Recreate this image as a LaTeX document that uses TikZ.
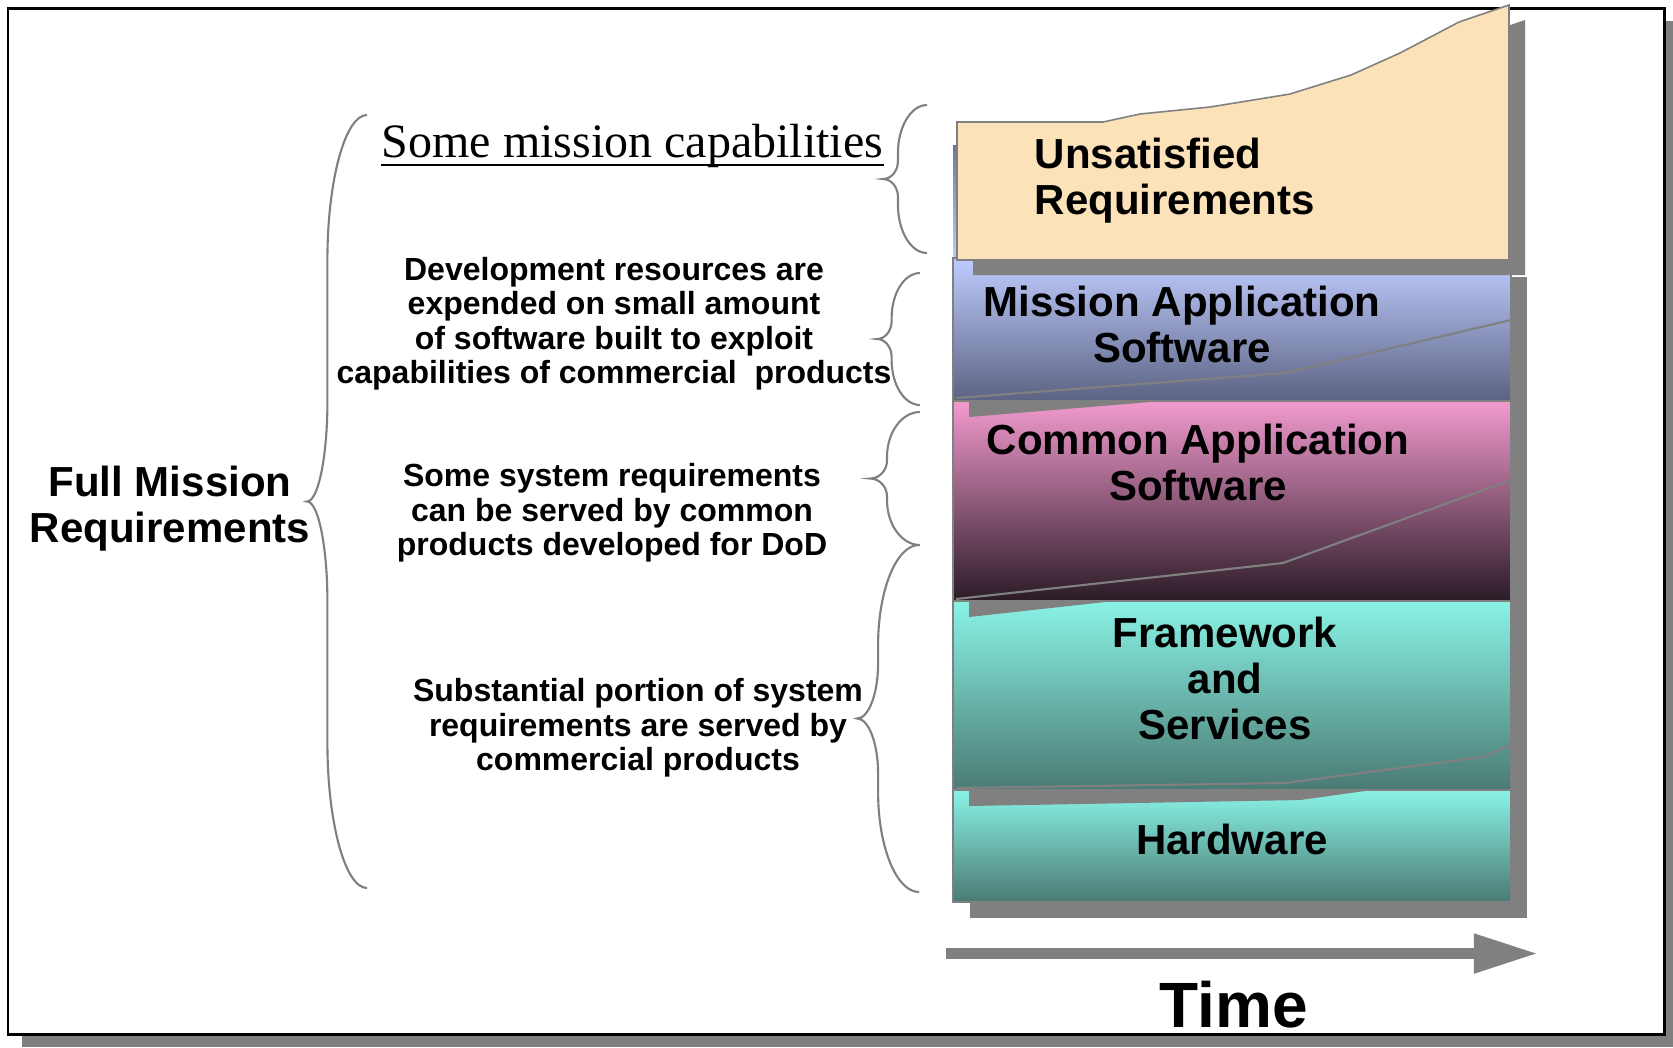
\documentclass[tikz,border=0pt]{standalone}
\usepackage{fontspec}
\setmainfont{Liberation Sans}
\newfontfamily\serifface{Liberation Serif}
\usetikzlibrary{arrows.meta}
\definecolor{shadowgray}{HTML}{808080}
\definecolor{unsatfill}{HTML}{FBE2B9}
\definecolor{missiontop}{HTML}{C0CCFF}
\definecolor{missionbot}{HTML}{5B6282}
\definecolor{commontop}{HTML}{F29ACE}
\definecolor{commonbot}{HTML}{2A1B26}
\definecolor{aquatop}{HTML}{8AF3E6}
\definecolor{aquabot}{HTML}{4A7A73}

\begin{document}
\begin{tikzpicture}[
  x=0.01cm, y=-0.01cm,
  shadow/.style={fill=shadowgray, draw=none},
  band/.style={draw=shadowgray, line width=0.45pt},
  seam/.style={draw=shadowgray, line width=0.6pt},
  curly/.style={draw=shadowgray, line width=0.6pt},
  bandtxt/.style={font=\fontsize{11.95}{13.1}\selectfont\bfseries, align=center, inner sep=0pt},
  sidetxt/.style={font=\fontsize{9.1}{9.8}\selectfont\bfseries, align=center, inner sep=0pt},
  timearrow/.style={draw=shadowgray, line width=3.1pt, -{Triangle[length=0.64cm, width=0.37cm]}}
]
  \useasboundingbox (0,0) rectangle (1673,1047);
  % frame
  \fill[shadowgray] (22,21) rectangle (1673,1047);
  \draw[fill=white, line width=0.85pt] (8,8) rectangle (1664,1034);

  % layer stack
  \fill[shadow] (970,277) rectangle (1527,918);
  \draw[band, top color=aquatop, bottom color=aquabot] (953,790) rectangle (1511,902);
  \draw[band, top color=aquatop, bottom color=aquabot] (953,601) rectangle (1511,790);
  \draw[seam] (956,788) -- (1285,783) -- (1483,757) -- (1511,745);
  \fill[shadow] (969,791) -- (969,806) -- (1300,800) -- (1365,791) -- cycle;
  \draw[band, top color=commontop, bottom color=commonbot] (953,401) rectangle (1511,601);
  \draw[seam] (956,599) -- (1283,563) -- (1511,480);
  \fill[shadow] (969,602) -- (969,617) -- (1105,602) -- cycle;
  \shade[top color=missionbot!80!missiontop, bottom color=missiontop] (953,145) rectangle (957,262);
  \draw[band, top color=missiontop, bottom color=missionbot] (953,258) rectangle (1511,401);
  \draw[seam] (956,398) -- (1285,373) -- (1511,320);
  \fill[shadow] (969,402) -- (969,417) -- (1150,402) -- cycle;
  \fill[shadow, shift={(16,15)}] (957,122) -- (1103,122) -- (1140,114) -- (1210,107)
    -- (1290,94) -- (1351,75) -- (1400,53) -- (1459,22) -- (1509,5) -- (1509,260)
    -- (957,260) -- cycle;
  \draw[band, fill=unsatfill] (957,122) -- (1103,122) -- (1140,114) -- (1210,107)
    -- (1290,94) -- (1351,75) -- (1400,53) -- (1459,22) -- (1509,5) -- (1509,260)
    -- (957,260) -- cycle;

  % layer labels
  \node[bandtxt, align=left, anchor=west] (unsat) at (1034,180.5) {Unsatisfied\\Requirements};
  \node[bandtxt] (misapp) at (1182,324.5) {Mission Application\\Software};
  \node[bandtxt] (comapp) at (1198,462) {Common Application\\Software};
  \node[bandtxt] (frmwk) at (1225,678.5) {Framework\\and\\Services};
  \node[bandtxt] (hw) at (1232,839.5) {Hardware};

  % side texts
  \node[bandtxt] (fullreq) at (170,508.5) {Full Mission\\Requirements};
  \node[inner sep=0pt, anchor=base, font=\serifface\fontsize{13.65}{15}\selectfont]
    (somecap) at (632.5,157) {Some mission capabilities};
  \draw[line width=0.55pt] ([yshift=-2.3pt]somecap.base west) -- ([yshift=-2.3pt]somecap.base east);
  \node[sidetxt] (devres) at (614,323.5) {Development resources are\\expended on small amount\\of software built to exploit\\capabilities of commercial~ products};
  \node[sidetxt] (sysreq) at (612,513) {Some system requirements\\can be served by common\\products developed for DoD};
  \node[sidetxt] (subst) at (638,728) {Substantial portion of system\\requirements are served by\\commercial products};

  % braces
  \foreach \xe/\yt/\xt/\yb/\re/\rt in {367/115/307/888/145/100, 927/105/883/253/48/18,
      920/273/877/405/45/18, 920/412/870/545/45/18, 919/545/857/892/100/55} {
    \pgfmathsetmacro\xs{\xe-0.66*(\xe-\xt)}
    \pgfmathsetmacro\ym{(\yt+\yb)/2}
    \draw[curly] (\xe,\yt) .. controls ({\xe-0.55*(\xe-\xs)},\yt) and (\xs,{\yt+0.45*\re}) .. (\xs,\yt+\re)
      -- (\xs,\ym-\rt) .. controls (\xs,{\ym-0.45*\rt}) and ({\xt+0.55*(\xs-\xt)},\ym) .. (\xt,\ym)
      .. controls ({\xt+0.55*(\xs-\xt)},\ym) and (\xs,{\ym+0.45*\rt}) .. (\xs,\ym+\rt)
      -- (\xs,\yb-\re) .. controls (\xs,{\yb-0.45*\re}) and ({\xe-0.55*(\xe-\xs)},\yb) .. (\xe,\yb);
  }

  % time axis
  \coordinate (t0) at (946,953.5);
  \coordinate (t1) at (1538,953.5);
  \draw[timearrow] (t0) -- (t1);
  \node[inner sep=0pt, font=\fontsize{18.2}{20}\selectfont\bfseries] (time) at (1234,1005) {Time};
\end{tikzpicture}
\end{document}
